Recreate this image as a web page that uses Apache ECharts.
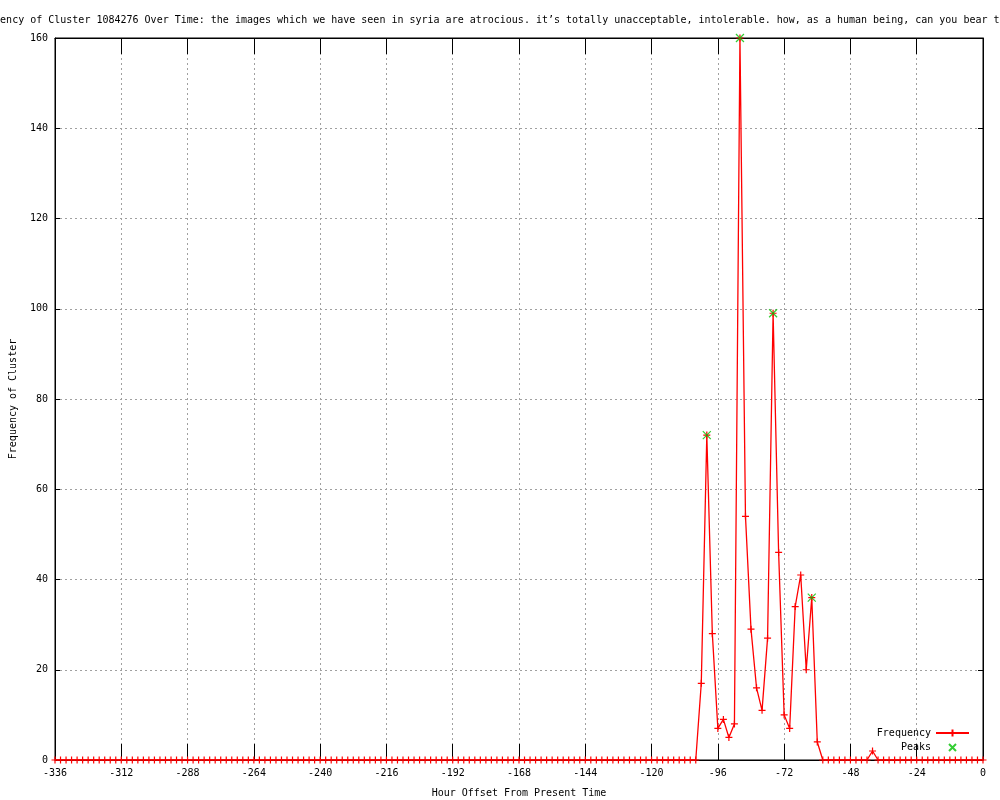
<!DOCTYPE html>
<html>
<head>
<meta charset="utf-8">
<script src="https://cdn.jsdelivr.net/npm/echarts@6/dist/echarts.min.js"></script>
<style>html,body{margin:0;padding:0;background:#fff}#chart{width:1000px;height:800px}</style>
</head>
<body>
<div id="chart"></div>
<script>
// ---- data ----
const titleText = "Frequency of Cluster 1084276 Over Time: the images which we have seen in syria are atrocious. it\u2019s totally unacceptable, intolerable. how, as a human being, can you bear this?";
const startHour = -336;
const stepHours = 2;
// frequency every 2 hours from -336 to 0
const freq = [
  0,0,0,0,0,0,0,0,0,0, 0,0,0,0,0,0,0,0,0,0,
  0,0,0,0,0,0,0,0,0,0, 0,0,0,0,0,0,0,0,0,0,
  0,0,0,0,0,0,0,0,0,0, 0,0,0,0,0,0,0,0,0,0,
  0,0,0,0,0,0,0,0,0,0, 0,0,0,0,0,0,0,0,0,0,
  0,0,0,0,0,0,0,0,0,0, 0,0,0,0,0,0,0,0,0,0,
  0,0,0,0,0,0,0,0,0,0, 0,0,0,0,0,0,0,
  17,72,28,7,9,5,8,160,54,29,16,11,27,99,46,10,7,34,41,20,36,4,
  0,0,0,0,0,0,0,0,0,
  2,
  0,0,0,0,0,0,0,0,0,0, 0,0,0,0,0,0,0,0,0,0
];
const peakHours = [-100, -88, -76, -62];
const peakValues = [72, 160, 99, 36];
const xTickMin = -336, xTickMax = 0, xTickStep = 24;
const yTickMin = 0, yTickMax = 160, yTickStep = 20;

// ---- build ----
const hours = freq.map((_, i) => startHour + stepHours * i);
const freqData = freq.map((v, i) => [hours[i], v]);
const peakData = peakHours.map((h, i) => [h, peakValues[i]]);

const FONT = '"DejaVu Sans Mono", monospace';
const txt = {fontFamily: FONT, fontSize: 10, color: '#000', fontWeight: 'normal'};
const gridLine = {show: true, lineStyle: {color: '#a0a0a0', width: 1, type: [2, 3]}};
const PLUS = 'path://M-1,0L1,0M0,-1L0,1';
const CROSS = 'path://M-1,-1L1,1M-1,1L1,-1';
// legend icon for Peaks: cross centred in a wide invisible box
const CROSS_WIDE = 'path://M-16.5,-4.5M16.5,4.5M-3.5,-3.5L3.5,3.5M-3.5,3.5L3.5,-3.5';

const chart = echarts.init(document.getElementById('chart'), null, {renderer: 'canvas'});
chart.setOption({
  animation: false,
  backgroundColor: '#fff',
  title: {text: titleText, left: -30, top: 15, padding: 0, textStyle: txt},
  grid: {left: 55, right: 17, top: 38, bottom: 40, containLabel: false, outerBoundsMode: 'none',
         show: true, borderColor: '#000', borderWidth: 1, backgroundColor: 'transparent'},
  legend: [
    {data: ['Frequency'], right: 30, top: 728, orient: 'vertical', align: 'right', padding: 0,
     itemWidth: 33, itemHeight: 9, textStyle: Object.assign({lineHeight: 10}, txt)},
    {data: [{name: 'Peaks', icon: CROSS_WIDE}], right: 30, top: 742, orient: 'vertical', align: 'right', padding: 0,
     itemWidth: 33, itemHeight: 9, textStyle: Object.assign({lineHeight: 10}, txt)}
  ],
  xAxis: [
    {type: 'value', min: xTickMin, max: xTickMax, interval: xTickStep, position: 'bottom',
     axisLine: {show: true, onZero: false, lineStyle: {color: '#000'}},
     axisTick: {show: true, inside: true, length: 16, lineStyle: {color: '#000'}},
     axisLabel: Object.assign({margin: 8}, txt),
     splitLine: gridLine,
     name: 'Hour Offset From Present Time', nameLocation: 'middle', nameGap: 28, nameTextStyle: txt},
    {type: 'value', min: xTickMin, max: xTickMax, interval: xTickStep, position: 'top',
     axisLine: {show: true, onZero: false, lineStyle: {color: '#000'}},
     axisTick: {show: true, inside: true, length: 16, lineStyle: {color: '#000'}},
     axisLabel: {show: false}, splitLine: {show: false}}
  ],
  yAxis: [
    {type: 'value', min: yTickMin, max: yTickMax, interval: yTickStep, position: 'left',
     axisLine: {show: true, onZero: false, lineStyle: {color: '#000'}},
     axisTick: {show: true, inside: true, length: 5, lineStyle: {color: '#000'}},
     axisLabel: Object.assign({margin: 7}, txt),
     splitLine: gridLine,
     name: 'Frequency of Cluster', nameLocation: 'middle', nameGap: 37, nameTextStyle: txt},
    {type: 'value', min: yTickMin, max: yTickMax, interval: yTickStep, position: 'right',
     axisLine: {show: true, onZero: false, lineStyle: {color: '#000'}},
     axisTick: {show: true, inside: true, length: 5, lineStyle: {color: '#000'}},
     axisLabel: {show: false}, splitLine: {show: false}}
  ],
  series: [
    {name: 'Frequency', type: 'line', data: freqData, xAxisIndex: 0, yAxisIndex: 0,
     showAllSymbol: true, symbol: PLUS, symbolSize: 7,
     lineStyle: {color: '#ff0000', width: 1.3},
     itemStyle: {color: '#ff0000', borderColor: '#ff0000', borderWidth: 1.2},
     z: 3},
    {name: 'Peaks', type: 'scatter', data: peakData, xAxisIndex: 0, yAxisIndex: 0,
     symbol: CROSS, symbolSize: 8,
     itemStyle: {color: '#00c000', borderColor: '#00c000', borderWidth: 1.2},
     z: 4}
  ]
});
</script>
</body>
</html>
